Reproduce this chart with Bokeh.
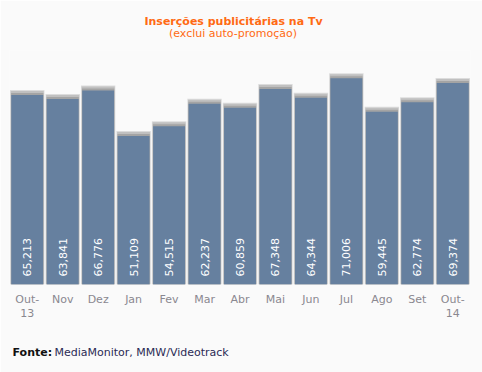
import math
from bokeh.plotting import figure
from bokeh.models import ColumnDataSource, Label, FactorRange, Range1d
from bokeh.core.properties import value
from bokeh.embed import file_html
from bokeh.resources import INLINE

# ---- data ----
months = ["Out-\n13", "Nov", "Dez", "Jan", "Fev", "Mar", "Abr", "Mai", "Jun",
          "Jul", "Ago", "Set", "Out-\n14"]
values = [65213, 63841, 66776, 51109, 54515, 62237, 60859, 67348, 64344,
          71006, 59445, 62774, 69374]
title_text = "Inserções publicitárias na Tv"
subtitle_text = "(exclui auto-promoção)"
source_label = "Fonte:"
source_text = "MediaMonitor, MMW/Videotrack"

# ---- layout ----
W, H = 482, 372
top_border = 50
bottom_border = 88
frame_h = H - top_border - bottom_border
px_per_unit = 0.002904
ymax = frame_h / px_per_unit
u = 1.0 / px_per_unit  # data units per pixel

BG = "#fafafa"
BAR = "#66809f"
ORANGE = "#ff6a13"
FONT = "DejaVu Sans"

labels = [f"{v:,}" for v in values]
src = ColumnDataSource(dict(
    x=months, top=values, lab=labels,
    halo=[v + 5 * u for v in values],
    mid=[v + 4 * u for v in values],
    inner=[v + 2 * u for v in values],
))

p = figure(width=W, height=H, x_range=FactorRange(*months, range_padding=0),
           y_range=Range1d(0, ymax), output_backend="svg", toolbar_location=None,
           min_border_left=9, min_border_right=12, min_border_top=top_border,
           min_border_bottom=bottom_border,
           background_fill_color=BG, border_fill_color=BG, outline_line_color=None)
p.xgrid.visible = False
p.ygrid.visible = False
p.yaxis.visible = False

p.vbar(x="x", top="halo", bottom=0, width=0.97, source=src, fill_color="#dcdcdc", line_color=None)
p.vbar(x="x", top="mid", bottom=0, width=0.93, source=src, fill_color="#c0c0c0", line_color=None)
p.vbar(x="x", top="inner", bottom=0, width=0.91, source=src, fill_color="#a4a4a4", line_color=None)
p.vbar(x="x", top="top", bottom=0, width=0.9, source=src, fill_color=BAR, line_color=None)

p.text(x="x", y=0, text="lab", source=src, angle=math.pi / 2,
       text_align="left", text_baseline="middle", y_offset=-8,
       text_color="white", text_font=value(FONT), text_font_size="11px")

xa = p.xaxis[0]
xa.axis_line_color = None
xa.major_tick_line_color = None
xa.minor_tick_line_color = None
xa.major_label_standoff = 2
xa.major_label_text_font = FONT
xa.major_label_text_font_size = "11px"
xa.major_label_text_color = "#8a8890"
xa.major_label_text_line_height = 1.1

# titles (labels in the side panels; x relative to the frame's left edge)
p.add_layout(Label(x=224, y=29, x_units="screen", y_units="screen",
                   text=title_text, text_align="center", text_baseline="middle",
                   text_font=FONT, text_font_style="bold",
                   text_font_size="11px", text_color=ORANGE), "above")
p.add_layout(Label(x=223.5, y=4, x_units="screen", y_units="screen",
                   text=subtitle_text, text_align="center", text_baseline="middle",
                   text_font=FONT, text_font_size="11px", text_color=ORANGE), "above")
p.add_layout(Label(x=3, y=-17, x_units="screen", y_units="screen",
                   text=source_label, text_align="left", text_baseline="middle",
                   text_font=FONT, text_font_style="bold",
                   text_font_size="11px", text_color="#111111"), "below")
p.add_layout(Label(x=45, y=-4, x_units="screen", y_units="screen",
                   text=source_text, text_align="left", text_baseline="middle",
                   text_font=FONT, text_font_size="11px", text_color="#2b2b55"), "below")

html = file_html(p, INLINE)
html = html.replace("<body>", '<body style="background:#fafafa">', 1)
open("out.html", "w").write(html)
